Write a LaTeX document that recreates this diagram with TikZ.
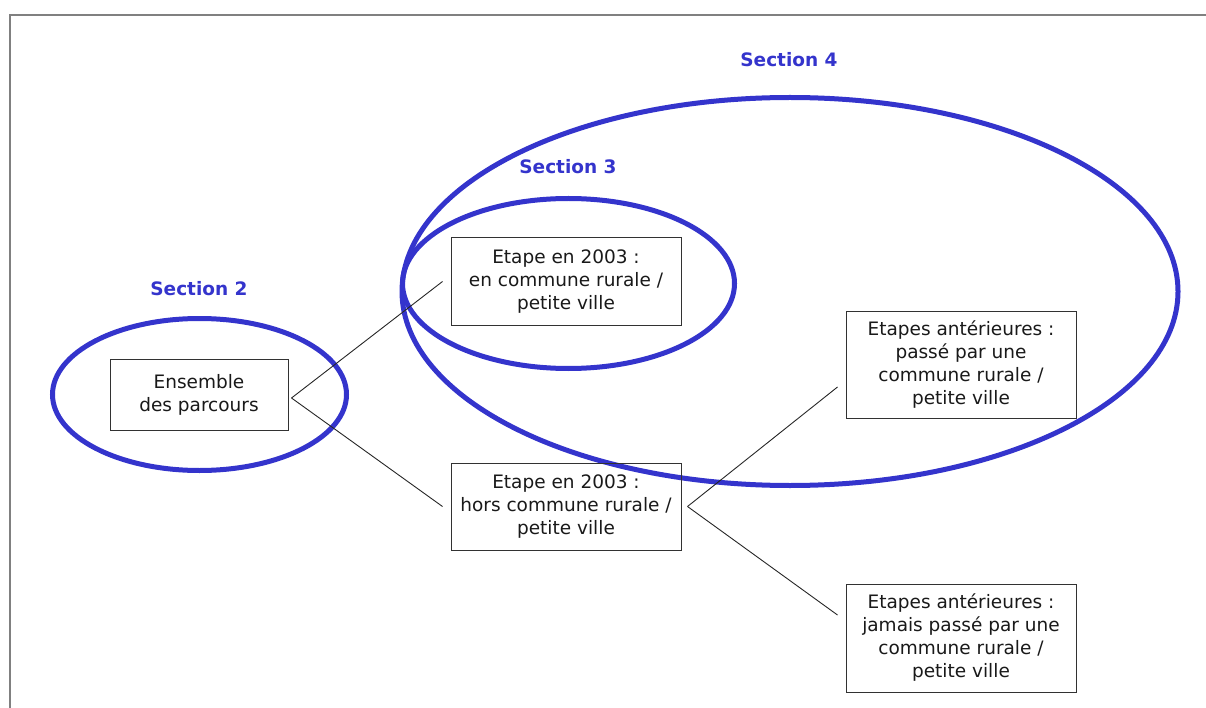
\documentclass[tikz,border=0pt]{standalone}
\usepackage{fontspec}
\setmainfont{DejaVu Sans}
\newfontfamily\labfont{DejaVu Sans}
\definecolor{secblue}{RGB}{52,52,204}
\definecolor{framegray}{RGB}{128,128,128}
\definecolor{boxline}{RGB}{50,50,50}
\begin{document}
\begin{tikzpicture}[x=1pt,y=-1pt,
  box/.style={draw=boxline,line width=1pt,align=center,inner sep=0pt,
    font=\fontsize{18.5}{23}\selectfont,text=black!90},
  sec/.style={draw=secblue,line width=5pt},
  seclabel/.style={text=secblue,font=\fontsize{18.5}{22}\selectfont\bfseries,inner sep=0pt},
  conn/.style={draw=black!85,line width=0.9pt}]
\useasboundingbox (0,0) rectangle (1206,708);
% frame
\draw[framegray,line width=2pt] (10,708) -- (10,15) -- (1206,15);
% ellipses
\draw[sec] (199.5,394.5) ellipse [x radius=147pt, y radius=76pt];
\draw[sec] (568.5,283.5) ellipse [x radius=166pt, y radius=85pt];
\draw[sec] (790,291.5) ellipse [x radius=388pt, y radius=194pt];
% labels
\node[seclabel] (s2) at (199,289) {Section 2};
\node[seclabel] (s3) at (568,167) {Section 3};
\node[seclabel] (s4) at (789,60) {Section 4};
% boxes
\node[box,minimum width=178pt,minimum height=71pt] (ens) at (199,394.5) {Ensemble\\des parcours};
\node[box,minimum width=230pt,minimum height=87pt] (e1) at (566,281.5) {Etape en 2003 :\\en commune rurale /\\petite ville};
\node[box,minimum width=230pt,minimum height=87pt] (e2) at (566,506.5) {Etape en 2003 :\\hors commune rurale /\\petite ville};
\node[box,minimum width=230pt,minimum height=107pt] (p) at (961,364.5) {Etapes antérieures :\\passé par une\\commune rurale /\\petite ville};
\node[box,minimum width=230pt,minimum height=108pt] (j) at (961,638) {Etapes antérieures :\\jamais passé par une\\commune rurale /\\petite ville};
% connectors
\draw[conn] ([xshift=3pt,yshift=-3.5pt]ens.east) -- ([xshift=-8pt]e1.west);
\draw[conn] ([xshift=3pt,yshift=-3.5pt]ens.east) -- ([xshift=-8pt]e2.west);
\draw[conn] ([xshift=6pt]e2.east) -- ([xshift=-8pt,yshift=-22.5pt]p.west);
\draw[conn] ([xshift=6pt]e2.east) -- ([xshift=-8pt,yshift=23pt]j.west);
\end{tikzpicture}
\end{document}
